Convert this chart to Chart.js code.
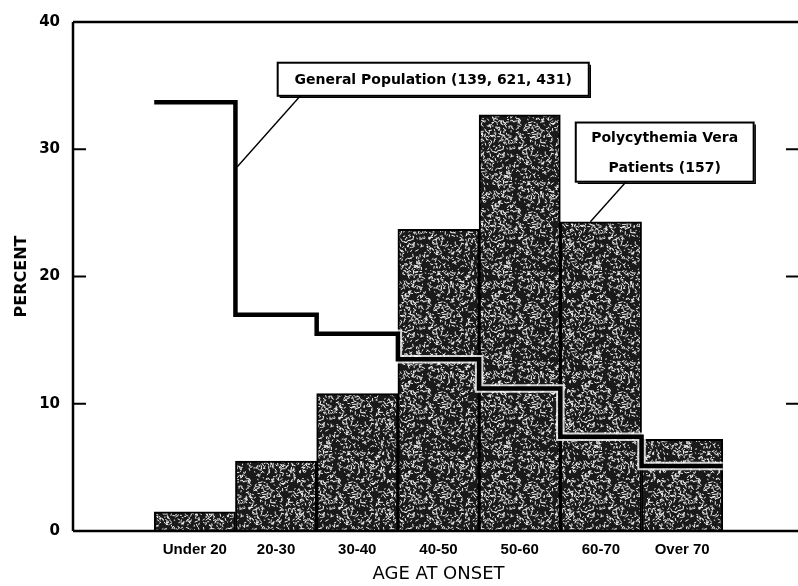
<!DOCTYPE html>
<html>
<head>
<meta charset="utf-8">
<title>Age at onset</title>
<script src="https://cdn.jsdelivr.net/npm/chart.js@4.4.1/dist/chart.umd.min.js"></script>
<style>
  html, body { margin: 0; padding: 0; background: #fff; overflow: hidden; }
  canvas { display: block; }
</style>
</head>
<body>
<canvas id="onsetChart" width="804" height="586"></canvas>
<script>
// Data (percent)
var ageGroups = ['Under 20', '20-30', '30-40', '40-50', '50-60', '60-70', 'Over 70'];
var pvPatients = [1.5, 5.5, 10.8, 23.7, 32.7, 24.3, 7.2];
var generalPop = [33.7, 17.0, 15.5, 13.5, 11.2, 7.4, 5.1];
var yTicks = [0, 10, 20, 30, 40];

var FONT = "'Liberation Sans', Arial, sans-serif";
var WIDE = "'DejaVu Sans', Verdana, sans-serif";
var canvas = document.getElementById('onsetChart');
var ctx = canvas.getContext('2d');

// speckled texture for the bars (looks only, not data)
function makeStipple() {
    var c = document.createElement('canvas');
    c.width = 90; c.height = 90;
    var g = c.getContext('2d');
    g.fillStyle = '#1a1a1a';
    g.fillRect(0, 0, 90, 90);
    var seed = 11;
    function rnd() { seed = (seed * 16807) % 2147483647; return seed / 2147483647; }
    g.strokeStyle = '#f0f0f0';
    g.lineWidth = 1;
    g.lineCap = 'round';
    for (var k = 0; k < 850; k++) {
        var x = rnd() * 90, y = rnd() * 90, a = rnd() * Math.PI * 2, l = 0.6 + rnd() * 2.6;
        g.beginPath();
        g.moveTo(x, y);
        g.lineTo(x + Math.cos(a) * l, y + Math.sin(a) * l);
        g.stroke();
    }
    return ctx.createPattern(c, 'repeat');
}

// bar i sits between x = i+1 and x = i+2
var barData = pvPatients.map(function(v, i) { return {x: i + 1.5, y: v}; });
var stepData = [];
generalPop.forEach(function(v, i) {
    stepData.push({x: i + 1, y: v});
    stepData.push({x: i + 2, y: v});
});

// frame, inner ticks and the two labelled boxes
var decorPlugin = {
    id: 'decor',
    afterDraw: function(chart) {
        var c = chart.ctx, a = chart.chartArea;
        var xs = chart.scales.x, ys = chart.scales.y;
        c.save();
        c.strokeStyle = '#000';
        c.lineWidth = 2.5;
        c.beginPath();
        c.moveTo(a.left, a.top); c.lineTo(chart.width, a.top);
        c.moveTo(a.left, a.top); c.lineTo(a.left, a.bottom);
        c.moveTo(a.left, a.bottom); c.lineTo(chart.width, a.bottom);
        c.stroke();
        c.lineWidth = 2;
        c.beginPath();
        [10, 20, 30].forEach(function(t) {
            var y = ys.getPixelForValue(t);
            c.moveTo(a.left, y); c.lineTo(a.left + 13, y);
            c.moveTo(a.right - 18, y); c.lineTo(a.right - 6, y);
        });
        c.stroke();

        function box(x1, y1, x2, y2, lines) {
            var l = xs.getPixelForValue(x1), r = xs.getPixelForValue(x2);
            var t = ys.getPixelForValue(y1), b = ys.getPixelForValue(y2);
            c.fillStyle = '#fff';
            c.fillRect(l, t, r - l, b - t);
            c.lineWidth = 2;
            c.strokeRect(l, t, r - l, b - t);
            c.lineWidth = 1.5;
            c.beginPath();
            c.moveTo(l + 2, b + 1.5); c.lineTo(r + 1.5, b + 1.5); c.lineTo(r + 1.5, t + 2);
            c.stroke();
            c.fillStyle = '#000';
            c.font = 'bold 14px ' + WIDE;
            c.textAlign = 'center';
            c.textBaseline = 'middle';
            var cx = (l + r) / 2, step = (b - t) / lines.length;
            lines.forEach(function(s, i) { c.fillText(s, cx, t + step * (i + 0.5) + 1); });
        }
        function leader(x1, y1, x2, y2) {
            c.lineWidth = 1.4;
            c.beginPath();
            c.moveTo(xs.getPixelForValue(x1), ys.getPixelForValue(y1));
            c.lineTo(xs.getPixelForValue(x2), ys.getPixelForValue(y2));
            c.stroke();
        }
        leader(2.8, 34.2, 2.02, 28.6);
        box(2.52, 36.8, 6.35, 34.2, ['General Population (139, 621, 431)']);
        leader(6.81, 27.45, 6.37, pvPatients[5]);
        box(6.19, 32.1, 8.38, 27.45, ['Polycythemia Vera', 'Patients (157)']);
        c.restore();
    }
};

var stipple = makeStipple();

var onsetChart = new Chart(ctx, {
    type: 'bar',
    data: {
        datasets: [{
            type: 'line',
            label: 'General Population',
            data: stepData,
            borderColor: '#000',
            borderWidth: 4.5,
            pointRadius: 0,
            fill: false,
            tension: 0,
            borderJoinStyle: 'miter',
            order: 0
        }, {
            type: 'line',
            label: 'halo',
            data: stepData,
            borderColor: 'rgba(255,255,255,0.8)',
            borderWidth: 8.5,
            pointRadius: 0,
            fill: false,
            tension: 0,
            order: 1
        }, {
            label: 'Polycythemia Vera Patients',
            data: barData,
            backgroundColor: stipple,
            borderColor: '#000',
            borderWidth: 2,
            barPercentage: 1,
            categoryPercentage: 1,
            order: 2
        }]
    },
    options: {
        responsive: false,
        animation: false,
        layout: { padding: { top: 15, left: 0, right: 0, bottom: 0 } },
        plugins: {
            legend: { display: false },
            tooltip: { enabled: false }
        },
        scales: {
            x: {
                type: 'linear',
                min: 0,
                max: 9,
                offset: false,
                grid: { display: false, drawTicks: false, offset: false },
                border: { display: false },
                afterBuildTicks: function(scale) {
                    scale.ticks = ageGroups.map(function(g, i) { return {value: i + 1.5}; });
                },
                afterFit: function(scale) { scale.height = 55; },
                ticks: {
                    color: '#000',
                    padding: 10,
                    maxRotation: 0,
                    autoSkip: false,
                    font: { family: FONT, size: 15, weight: 'bold' },
                    callback: function(value) { return ageGroups[Math.round(value - 1.5)]; }
                },
                title: {
                    display: true,
                    text: 'AGE AT ONSET',
                    color: '#000',
                    font: { family: WIDE, size: 18 },
                    padding: { top: 0, bottom: 1 }
                }
            },
            y: {
                min: 0,
                max: 40,
                grid: { display: false, drawTicks: false },
                border: { display: false },
                afterBuildTicks: function(scale) {
                    scale.ticks = yTicks.map(function(v) { return {value: v}; });
                },
                afterFit: function(scale) { scale.width = 73; },
                ticks: {
                    color: '#000',
                    padding: 13,
                    font: { family: WIDE, size: 15, weight: 'bold' }
                },
                title: {
                    display: true,
                    text: 'PERCENT',
                    color: '#000',
                    font: { family: WIDE, size: 16, weight: 'bold' },
                    padding: { top: 12, bottom: 0 }
                }
            }
        }
    },
    plugins: [decorPlugin]
});
</script>
</body>
</html>
